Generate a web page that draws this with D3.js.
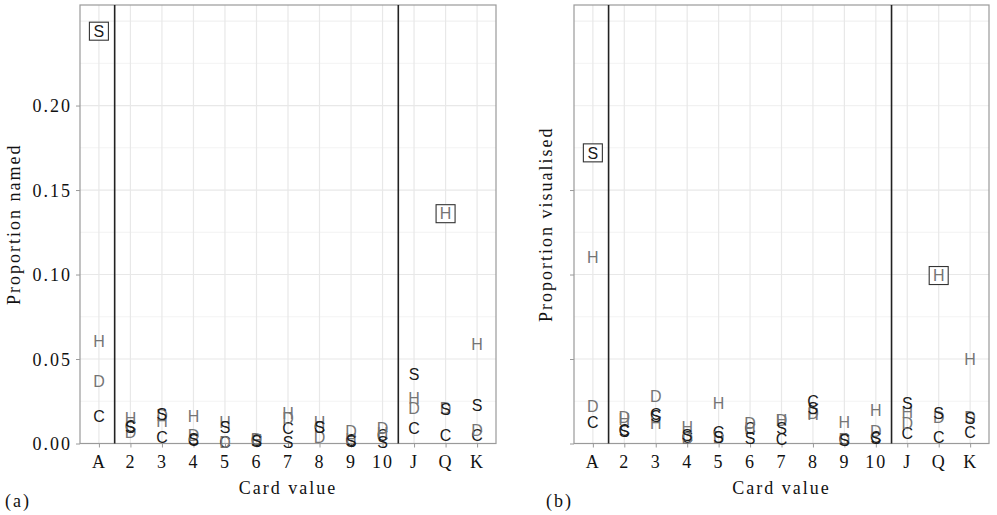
<!DOCTYPE html>
<html>
  <head>
    <meta charset="UTF-8">
    <title>Card value proportions</title>
    <style>
      body { margin: 0; background: #fff; }
      .serif { font-family: "Liberation Serif", "Times New Roman", serif; font-size: 18px; letter-spacing: 2px; fill: #111; }
      .lab { font-family: "Liberation Sans", Arial, sans-serif; font-size: 16px; }
    </style>
  </head>
  <body>
    <svg id="chart" width="997" height="515"></svg>

    <script src="https://d3js.org/d3.v7.min.js" charset="utf-8"></script>
    <script>

// card values on the x axis
var cards = ["A","2","3","4","5","6","7","8","9","10","J","Q","K"];
var suits = ["C","D","H","S"];

// panel (a): proportion named, one array per suit, in card order
var namedC = [0.016, 0.010, 0.0035, 0.002, 0.0005, 0.002, 0.009, 0.0095, 0.002, 0.005, 0.009, 0.0047, 0.005];
var namedD = [0.037, 0.0065, 0.017, 0.005, 0.001, 0.0025, 0.015, 0.0035, 0.007, 0.0088, 0.021, 0.021, 0.0077];
var namedH = [0.0606, 0.0147, 0.013, 0.016, 0.0124, 0.002, 0.018, 0.0124, 0.0025, 0.006, 0.027, 0.136, 0.0585];
var namedS = [0.244, 0.0094, 0.0176, 0.0025, 0.0094, 0.0015, 0.0006, 0.0095, 0.0015, 0.001, 0.041, 0.020, 0.0225];

// panel (b): proportion visualised
var visC = [0.0125, 0.008, 0.0175, 0.004, 0.0065, 0.009, 0.0024, 0.025, 0.0024, 0.0035, 0.006, 0.0036, 0.0065];
var visD = [0.022, 0.0155, 0.028, 0.003, 0.0035, 0.0118, 0.0136, 0.0177, 0.0024, 0.007, 0.0118, 0.0154, 0.0154];
var visH = [0.110, 0.0145, 0.012, 0.0095, 0.0236, 0.009, 0.0136, 0.0172, 0.0124, 0.0195, 0.0183, 0.0994, 0.050];
var visS = [0.172, 0.0075, 0.016, 0.005, 0.0035, 0.003, 0.009, 0.0207, 0.0020, 0.0030, 0.024, 0.0178, 0.0148];

// the two cards picked out with a box
var boxed = ["A-S", "Q-H"];

var yGrid = [0, 0.05, 0.10, 0.15, 0.20, 0.25];
var yMinor = [0.025, 0.075, 0.125, 0.175, 0.225];
var namedTicks = [0, 0.05, 0.10, 0.15, 0.20];
var visTicks = [0, 0.05, 0.10, 0.15];

var suitColour = {"C": "#1a1a1a", "D": "#757575", "H": "#757575", "S": "#1a1a1a"};

function rows(c, d, h, s) {
  var cols = {"C": c, "D": d, "H": h, "S": s};
  var out = [];
  suits.forEach(function(suit){
    cards.forEach(function(card, i){
      out.push({card: card, suit: suit, value: cols[suit][i]});
    });
  });
  return out;
}

var panels = [
  {tag: "(a)", ylab: "Proportion named", data: rows(namedC, namedD, namedH, namedS), ticks: namedTicks, x0: 80, x1: 496, labels: true},
  {tag: "(b)", ylab: "Proportion visualised", data: rows(visC, visD, visH, visS), ticks: visTicks, x0: 574, x1: 989, labels: false}
];

var svg = d3.select("#chart");
var plotTop = 5, plotBottom = 443.5;

var y = d3.scaleLinear().domain([0, 0.2595]).range([plotBottom, plotTop]);

panels.forEach(function(p){
  var x = d3.scalePoint().domain(cards).range([p.x0, p.x1]).padding(0.6);
  var g = svg.append("g");

  // grid
  g.selectAll(".minor").data(yMinor).enter().append("line")
    .attr("x1", p.x0).attr("x2", p.x1)
    .attr("y1", function(d){ return y(d); }).attr("y2", function(d){ return y(d); })
    .attr("stroke", "#f3f3f3").attr("stroke-width", 1);
  g.selectAll(".major").data(yGrid).enter().append("line")
    .attr("x1", p.x0).attr("x2", p.x1)
    .attr("y1", function(d){ return y(d); }).attr("y2", function(d){ return y(d); })
    .attr("stroke", function(d){ return p.ticks.indexOf(d) >= 0 ? "#e8e8e8" : "#f1f1f1"; })
    .attr("stroke-width", 1.2);
  g.selectAll(".vgrid").data(cards).enter().append("line")
    .attr("x1", function(d){ return x(d); }).attr("x2", function(d){ return x(d); })
    .attr("y1", plotTop).attr("y2", plotBottom)
    .attr("stroke", "#e8e8e8").attr("stroke-width", 1.2);

  // panel frame
  g.append("rect")
    .attr("x", p.x0).attr("y", plotTop)
    .attr("width", p.x1 - p.x0).attr("height", plotBottom - plotTop)
    .attr("fill", "none").attr("stroke", "#9a9a9a").attr("stroke-width", 1.2);

  // separators: aces | number cards | face cards
  var step = x.step();
  [x("A") + step / 2, x("10") + step / 2].forEach(function(sx){
    g.append("line")
      .attr("x1", sx).attr("x2", sx).attr("y1", plotTop).attr("y2", plotBottom)
      .attr("stroke", "#222").attr("stroke-width", 1.6);
  });

  // axes
  var yAxis = d3.axisLeft(y).tickValues(p.ticks).tickSize(4).tickPadding(4)
    .tickFormat(p.labels ? d3.format(".2f") : function(){ return ""; });
  var ya = g.append("g").attr("transform", "translate(" + p.x0 + ",0)").call(yAxis);
  ya.select(".domain").remove();
  ya.selectAll("line").attr("stroke", "#9a9a9a");
  ya.selectAll("text").attr("class", "serif").attr("fill", "#111").attr("dy", "0.35em");

  var xAxis = d3.axisBottom(x).tickSize(4).tickPadding(5);
  var xa = g.append("g").attr("transform", "translate(0," + plotBottom + ")").call(xAxis);
  xa.select(".domain").remove();
  xa.selectAll("line").attr("stroke", "#9a9a9a");
  xa.selectAll("text").attr("class", "serif").attr("fill", "#111").attr("dy", "0.85em");

  // letters, one per suit
  var pts = g.selectAll(".pt").data(p.data).enter().append("g")
    .attr("transform", function(d){ return "translate(" + x(d.card) + "," + y(d.value) + ")"; });
  pts.filter(function(d){ return boxed.indexOf(d.card + "-" + d.suit) >= 0; })
    .append("rect")
      .attr("x", -9.5).attr("y", -9).attr("width", 19).attr("height", 18)
      .attr("fill", "#fff").attr("stroke", "#333").attr("stroke-width", 1.1);
  pts.append("text")
    .attr("class", "lab")
    .attr("text-anchor", "middle")
    .attr("dy", "0.36em")
    .attr("fill", function(d){ return suitColour[d.suit]; })
    .text(function(d){ return d.suit; });

  // titles
  svg.append("text").attr("class", "serif")
    .attr("x", (p.x0 + p.x1) / 2).attr("y", 494)
    .attr("text-anchor", "middle").text("Card value");
  svg.append("text").attr("class", "serif")
    .attr("transform", "translate(" + (p.x0 - (p.labels ? 60 : 22)) + "," + ((plotTop + plotBottom) / 2) + ") rotate(-90)")
    .attr("text-anchor", "middle").text(p.ylab);
  svg.append("text").attr("class", "serif")
    .attr("x", p.x0 - (p.labels ? 75 : 28)).attr("y", 507)
    .text(p.tag);
});

    </script>
  </body>
</html>
